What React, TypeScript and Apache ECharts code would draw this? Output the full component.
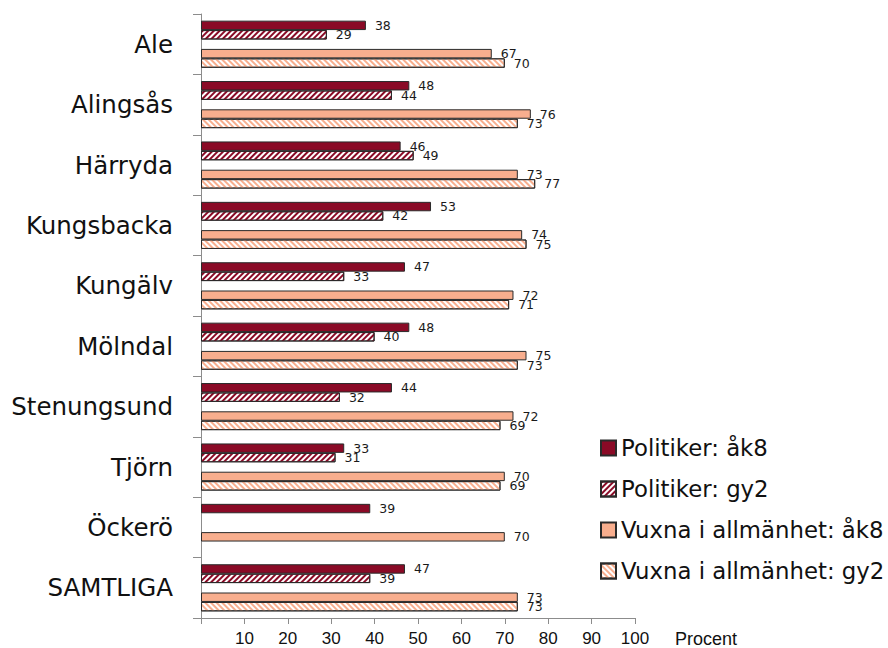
import React, { useEffect, useRef } from "react";
import * as echarts from "echarts";

const categories = ["Ale", "Alingsås", "Härryda", "Kungsbacka", "Kungälv", "Mölndal", "Stenungsund", "Tjörn", "Öckerö", "SAMTLIGA"];
const seriesNames = ["Politiker: åk8", "Politiker: gy2", "Vuxna i allmänhet: åk8", "Vuxna i allmänhet: gy2"];
const politikerAk8 = [38, 48, 46, 53, 47, 48, 44, 33, 39, 47];
const politikerGy2 = [29, 44, 49, 42, 33, 40, 32, 31, null, 39];
const vuxnaAk8 = [67, 76, 73, 74, 72, 75, 72, 70, 70, 73];
const vuxnaGy2 = [70, 73, 77, 75, 71, 73, 69, 69, null, 73];
const xTicks = [10, 20, 30, 40, 50, 60, 70, 80, 90, 100];

const DARK_RED = "#8A0A26";
const SALMON = "#F8AE8E";
const BORDER = "#2a2a2a";

export default function App() {
  const ref = useRef<HTMLDivElement>(null);
  useEffect(() => {
    if (!ref.current) return;
    const chart = echarts.init(ref.current, null, { renderer: "svg" });
    const label = {
      show: true,
      position: "right" as const,
      distance: 9,
      fontFamily: "DejaVu Sans",
      fontSize: 12.5,
      color: "#1a1a1a",
      formatter: (p: any) => (p.value == null ? "" : String(Math.round(p.value))),
    };
    const common = {
      type: "bar" as const,
      barGap: "0%",
      barCategoryGap: "22%",
      label,
    };
    chart.setOption({
      animation: false,
      grid: { left: 201, top: 14, right: 253, bottom: 30, containLabel: false },
      legend: {
        orient: "vertical",
        left: 600,
        top: 436,
        padding: 0,
        itemWidth: 15,
        itemHeight: 15,
        itemGap: 17,
        icon: "rect",
        data: seriesNames,
        textStyle: { fontFamily: "DejaVu Sans", fontSize: 22.8, lineHeight: 24, color: "#111" },
      },
      xAxis: {
        type: "value",
        min: 0,
        max: 100,
        interval: 10,
        splitLine: { show: false },
        axisLine: { show: true, lineStyle: { color: "#8c8c8c" } },
        axisTick: { show: true, length: 6, lineStyle: { color: "#8c8c8c" } },
        axisLabel: {
          margin: 12,
          fontFamily: "Liberation Sans",
          fontSize: 17,
          color: "#111",
          formatter: (v: number) => (xTicks.includes(v) ? String(v) : ""),
        },
        name: "Procent",
        nameLocation: "end",
        nameGap: 40,
        nameTextStyle: {
          fontFamily: "Liberation Sans",
          fontSize: 18,
          color: "#111",
          verticalAlign: "top",
          padding: [12, 0, 0, 0],
        },
      },
      yAxis: {
        type: "category",
        data: categories,
        inverse: true,
        axisLine: { show: true, lineStyle: { color: "#8c8c8c" } },
        axisTick: { show: true, length: 8, lineStyle: { color: "#8c8c8c" } },
        axisLabel: {
          margin: 28,
          fontFamily: "DejaVu Sans",
          fontSize: 24.5,
          color: "#111",
        },
      },
      series: [
        {
          ...common,
          name: seriesNames[0],
          data: politikerAk8,
          itemStyle: { color: DARK_RED, borderColor: BORDER, borderWidth: 1 },
        },
        {
          ...common,
          name: seriesNames[1],
          data: politikerGy2,
          itemStyle: {
            color: "#ffffff",
            borderColor: BORDER,
            borderWidth: 1,
            decal: {
              symbol: "rect",
              symbolSize: 1,
              color: DARK_RED,
              dashArrayX: [1, 0],
              dashArrayY: [2, 2],
              rotation: -Math.PI / 4,
            },
          },
        },
        {
          ...common,
          name: "spacer",
          data: categories.map(() => null),
          label: { show: false },
        },
        {
          ...common,
          name: seriesNames[2],
          data: vuxnaAk8,
          itemStyle: { color: SALMON, borderColor: BORDER, borderWidth: 1 },
        },
        {
          ...common,
          name: seriesNames[3],
          data: vuxnaGy2,
          itemStyle: {
            color: "#ffffff",
            borderColor: BORDER,
            borderWidth: 1,
            decal: {
              symbol: "rect",
              symbolSize: 1,
              color: SALMON,
              dashArrayX: [1, 0],
              dashArrayY: [2, 2],
              rotation: Math.PI / 4,
            },
          },
        },
      ],
    });
    return () => chart.dispose();
  }, []);
  return (
    <div
      ref={ref}
      style={{ position: "fixed", left: 0, top: 0, width: 888, height: 648, background: "#fff" }}
    />
  );
}
